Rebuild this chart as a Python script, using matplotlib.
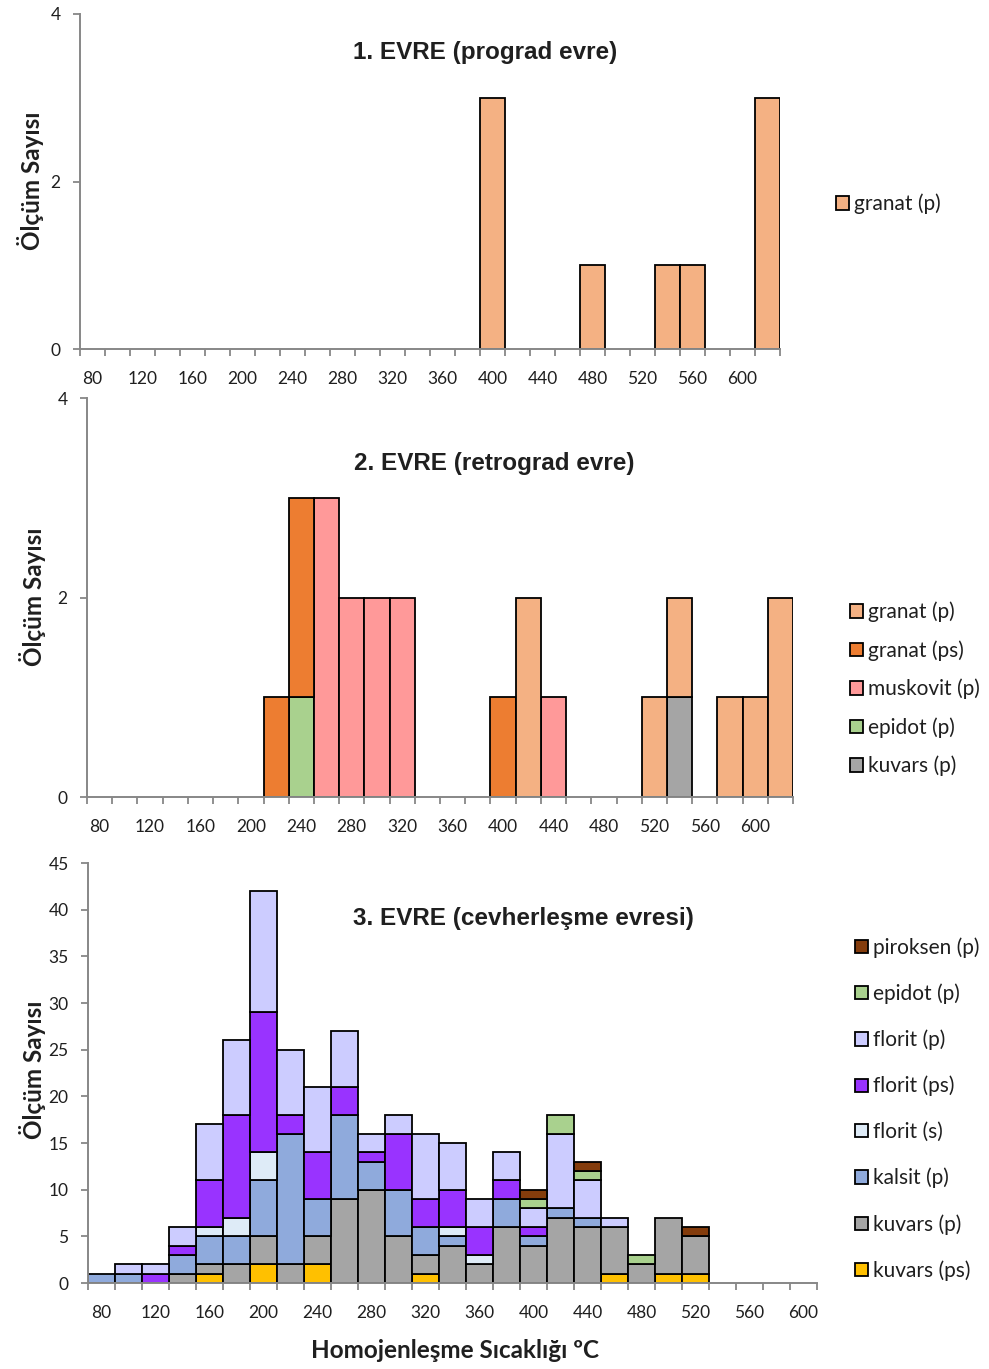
import matplotlib
matplotlib.use("Agg")
import matplotlib.pyplot as plt
from matplotlib.patches import Patch
import numpy as np

# ---------------------------------------------------------------------------
# Temperature classes (°C)
temps_12 = [80, 100, 120, 140, 160, 180, 200, 220, 240, 260, 280, 300, 320, 340,
            360, 380, 400, 420, 440, 460, 480, 500, 520, 540, 560, 580, 600, 620]
temps_3 = [80, 100, 120, 140, 160, 180, 200, 220, 240, 260, 280, 300, 320, 340,
           360, 380, 400, 420, 440, 460, 480, 500, 520, 540, 560, 580, 600]

# 1. EVRE (prograd evre)
s1_granat_p = [0, 0, 0, 0, 0, 0, 0, 0, 0, 0, 0, 0, 0, 0,
               0, 0, 3, 0, 0, 0, 1, 0, 0, 1, 1, 0, 0, 3]

# 2. EVRE (retrograd evre) - bottom to top stacking order
s2_kuvars_p = [0, 0, 0, 0, 0, 0, 0, 0, 0, 0, 0, 0, 0, 0,
               0, 0, 0, 0, 0, 0, 0, 0, 0, 1, 0, 0, 0, 0]
s2_epidot_p = [0, 0, 0, 0, 0, 0, 0, 0, 1, 0, 0, 0, 0, 0,
               0, 0, 0, 0, 0, 0, 0, 0, 0, 0, 0, 0, 0, 0]
s2_muskovit_p = [0, 0, 0, 0, 0, 0, 0, 0, 0, 3, 2, 2, 2, 0,
                 0, 0, 0, 0, 1, 0, 0, 0, 0, 0, 0, 0, 0, 0]
s2_granat_ps = [0, 0, 0, 0, 0, 0, 0, 1, 2, 0, 0, 0, 0, 0,
                0, 0, 1, 0, 0, 0, 0, 0, 0, 0, 0, 0, 0, 0]
s2_granat_p = [0, 0, 0, 0, 0, 0, 0, 0, 0, 0, 0, 0, 0, 0,
               0, 0, 0, 2, 0, 0, 0, 0, 1, 1, 0, 1, 1, 2]

# 3. EVRE (cevherleşme evresi) - bottom to top stacking order
s3_kuvars_ps = [0, 0, 0, 0, 1, 0, 2, 0, 2, 0, 0, 0, 1, 0,
                0, 0, 0, 0, 0, 1, 0, 1, 1, 0, 0, 0, 0]
s3_kuvars_p = [0, 0, 0, 1, 1, 2, 3, 2, 3, 9, 10, 5, 2, 4,
               2, 6, 4, 7, 6, 5, 2, 6, 4, 0, 0, 0, 0]
s3_kalsit_p = [1, 1, 0, 2, 3, 3, 6, 14, 4, 9, 3, 5, 3, 1,
               0, 3, 1, 1, 1, 0, 0, 0, 0, 0, 0, 0, 0]
s3_florit_s = [0, 0, 0, 0, 1, 2, 3, 0, 0, 0, 0, 0, 0, 1,
               1, 0, 0, 0, 0, 0, 0, 0, 0, 0, 0, 0, 0]
s3_florit_ps = [0, 0, 1, 1, 5, 11, 15, 2, 5, 3, 1, 6, 3, 4,
                3, 2, 1, 0, 0, 0, 0, 0, 0, 0, 0, 0, 0]
s3_florit_p = [0, 1, 1, 2, 6, 8, 13, 7, 7, 6, 2, 2, 7, 5,
               3, 3, 2, 8, 4, 1, 0, 0, 0, 0, 0, 0, 0]
s3_epidot_p = [0, 0, 0, 0, 0, 0, 0, 0, 0, 0, 0, 0, 0, 0,
               0, 0, 1, 2, 1, 0, 1, 0, 0, 0, 0, 0, 0]
s3_piroksen_p = [0, 0, 0, 0, 0, 0, 0, 0, 0, 0, 0, 0, 0, 0,
                 0, 0, 1, 0, 1, 0, 0, 0, 1, 0, 0, 0, 0]

# ---------------------------------------------------------------------------
C_GRANAT_P = "#F4B183"
C_GRANAT_PS = "#ED7D31"
C_MUSKOVIT = "#FF9999"
C_EPIDOT = "#A9D18E"
C_KUVARS_P = "#A5A5A5"
C_KUVARS_PS = "#FFC000"
C_KALSIT = "#8FAADC"
C_FLORIT_S = "#DEEBF7"
C_FLORIT_PS = "#9933FF"
C_FLORIT_P = "#CCCCFF"
C_PIROKSEN = "#843C0C"

AXIS_GREY = "#878787"
TXT = "#1f1f1f"
TICK_FONT = ["Lato", "DejaVu Sans"]
TITLE_FONT = ["Liberation Sans", "DejaVu Sans"]

W, H = 989, 1369
fig = plt.figure(figsize=(W / 100, H / 100), dpi=100)
fig.patch.set_facecolor("white")


def px_axes(left, top, right, bottom):
    return fig.add_axes([left / W, 1 - bottom / H, (right - left) / W, (bottom - top) / H])


def draw_stack(ax, series):
    n = len(series[0][0])
    x = np.arange(n)
    base = np.zeros(n)
    for vals, color, _ in series:
        v = np.asarray(vals, dtype=float)
        m = v > 0
        ax.bar(x[m], v[m], width=1.0, bottom=base[m], color=color,
               edgecolor="black", linewidth=1.3, zorder=2)
        base += v


def style_axes(ax, cats, ymax, ystep):
    n = len(cats)
    ax.set_xlim(-0.5, n - 0.5)
    ax.set_ylim(0, ymax)
    for side in ("top", "right"):
        ax.spines[side].set_visible(False)
    for side in ("left", "bottom"):
        ax.spines[side].set_color(AXIS_GREY)
        ax.spines[side].set_linewidth(1.4)
        ax.spines[side].set_zorder(3)
    # ticks at class boundaries, labels on every second class
    ax.set_xticks(np.arange(n + 1) - 0.5)
    ax.set_xticklabels([])
    ax.tick_params(axis="x", which="major", direction="out", length=5,
                   width=1.3, color=AXIS_GREY)
    lab_idx = np.arange(0, n, 2)
    ax.set_xticks(lab_idx, minor=True)
    ax.set_xticklabels([str(cats[i]) for i in lab_idx], minor=True,
                       fontfamily=TICK_FONT, fontsize=12.5, color=TXT)
    ax.tick_params(axis="x", which="minor", length=0, pad=16)
    yt = np.arange(0, ymax + 0.01, ystep)
    ax.set_yticks(yt)
    ax.set_yticklabels([str(int(t)) for t in yt],
                       fontfamily=TICK_FONT, fontsize=12.5, color=TXT)
    ax.tick_params(axis="y", direction="out", length=5, width=1.3,
                   color=AXIS_GREY, pad=9)
    ax.set_facecolor("none")


def legend_at(ax, series, x_px, y_px, spacing):
    handles = [Patch(facecolor=c, edgecolor="black", linewidth=1.3, label=l)
               for _, c, l in reversed(series)]
    ax.legend(handles=handles, loc="center left",
              bbox_to_anchor=(x_px / W, 1 - y_px / H), bbox_transform=fig.transFigure,
              frameon=False, borderpad=0, borderaxespad=0, handlelength=0.6,
              handleheight=0.6, handletextpad=0.25, labelspacing=spacing,
              prop={"family": TICK_FONT, "size": 15}, labelcolor=TXT)


def ylabel_at(x_px, y_px):
    fig.text(x_px / W, 1 - y_px / H, "Ölçüm Sayısı", rotation=90, ha="center",
             va="center", fontfamily=TICK_FONT, fontweight="bold", fontsize=17.5,
             color=TXT)


def title_at(x_px, y_px, text):
    fig.text(x_px / W, 1 - y_px / H, text, ha="center", va="center",
             fontfamily=TITLE_FONT, fontweight="bold", fontsize=17.5, color=TXT)


# ---- Panel 1 ---------------------------------------------------------------
ax1 = px_axes(80, 14, 780, 349)
series1 = [(s1_granat_p, C_GRANAT_P, "granat (p)")]
draw_stack(ax1, series1)
style_axes(ax1, temps_12, 4, 2)
title_at(485, 52, "1. EVRE (prograd evre)")
legend_at(ax1, series1, 836, 204, 0.86)
ylabel_at(30, 181)

# ---- Panel 2 ---------------------------------------------------------------
ax2 = px_axes(87, 398, 793, 797)
series2 = [(s2_kuvars_p, C_KUVARS_P, "kuvars (p)"),
           (s2_epidot_p, C_EPIDOT, "epidot (p)"),
           (s2_muskovit_p, C_MUSKOVIT, "muskovit (p)"),
           (s2_granat_ps, C_GRANAT_PS, "granat (ps)"),
           (s2_granat_p, C_GRANAT_P, "granat (p)")]
draw_stack(ax2, series2)
style_axes(ax2, temps_12, 4, 2)
title_at(494, 464, "2. EVRE (retrograd evre)")
legend_at(ax2, series2, 850, 689, 0.86)
ylabel_at(33, 597)

# ---- Panel 3 ---------------------------------------------------------------
ax3 = px_axes(88, 863, 817, 1283)
series3 = [(s3_kuvars_ps, C_KUVARS_PS, "kuvars (ps)"),
           (s3_kuvars_p, C_KUVARS_P, "kuvars (p)"),
           (s3_kalsit_p, C_KALSIT, "kalsit (p)"),
           (s3_florit_s, C_FLORIT_S, "florit (s)"),
           (s3_florit_ps, C_FLORIT_PS, "florit (ps)"),
           (s3_florit_p, C_FLORIT_P, "florit (p)"),
           (s3_epidot_p, C_EPIDOT, "epidot (p)"),
           (s3_piroksen_p, C_PIROKSEN, "piroksen (p)")]
draw_stack(ax3, series3)
style_axes(ax3, temps_3, 45, 5)
title_at(523, 919, "3. EVRE (cevherleşme evresi)")
legend_at(ax3, series3, 855, 1109, 1.23)
ylabel_at(33, 1070)
fig.text(455 / W, 1 - 1350 / H, "Homojenleşme Sıcaklığı ºC", ha="center",
         va="center", fontfamily=TICK_FONT, fontweight="bold", fontsize=17.5,
         color=TXT)

fig.savefig("out.png", dpi=100, facecolor="white")
